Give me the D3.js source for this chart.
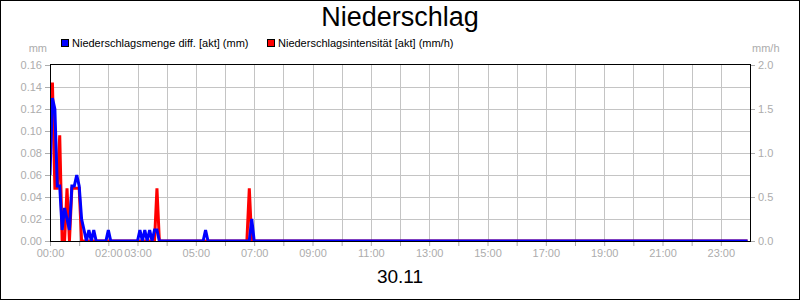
<!DOCTYPE html>
<html>
<head>
<meta charset="utf-8">
<script src="https://cdn.jsdelivr.net/npm/d3@7"></script>
<style>
  body { margin: 0; background: #fff; }
  svg { display: block; font-family: "Liberation Sans", Arial, sans-serif; }
</style>
</head>
<body>
<div class="graph"></div>
<script>
// data: minutes since 00:00 (5 min steps)
const mengeMin = [0, 5, 10, 15, 20, 25, 30, 35, 40, 45, 50, 55, 60, 65, 70, 75, 80, 85, 90, 95,
  115, 120, 125, 180, 185, 190, 195, 200, 205, 210, 215, 220, 225, 315, 320, 325, 410, 415, 420, 1435];
const mengeVal = [0.06, 0.13, 0.12, 0.05, 0.05, 0.01, 0.03, 0.02, 0.01, 0.05, 0.05, 0.06, 0.05, 0.02, 0.01, 0, 0.01, 0, 0.01, 0,
  0, 0.01, 0, 0, 0.01, 0, 0.01, 0, 0.01, 0, 0.01, 0.01, 0, 0, 0.01, 0, 0, 0.02, 0, 0];
const intensMin = [0, 5, 10, 15, 20, 25, 30, 35, 40, 45, 50, 55, 60, 65, 215, 220, 225, 405, 410, 415, 1435];
const intensVal = [1.2, 1.8, 0.6, 0.6, 1.2, 0, 0, 0.6, 0, 0.6, 0.6, 0.6, 0.6, 0, 0, 0.6, 0, 0, 0.6, 0, 0];
const leftTicks = [0, 0.02, 0.04, 0.06, 0.08, 0.10, 0.12, 0.14, 0.16];
const rightTicks = [0, 0.5, 1.0, 1.5, 2.0];
const hourLabels = ["00:00", "02:00", "03:00", "05:00", "07:00", "09:00", "11:00", "13:00",
  "15:00", "17:00", "19:00", "21:00", "23:00"];
const legendKey = ["Niederschlagsmenge diff. [akt] (mm)", "Niederschlagsintensität [akt] (mm/h)"];

function main() {
  //setting
  const width = 800;
  const height = 300;
  const left = 50, right = 750, top = 65, bottom = 241;
  const grey = "#acacac";
  const gridColor = "#c4c4c4";

  //scales
  const xScale = d3.scaleLinear().domain([0, 1440]).range([left, right]);
  const yScale = d3.scaleLinear().domain([0, 0.16]).range([bottom, top]);
  const y2Scale = d3.scaleLinear().domain([0, 2.0]).range([bottom, top]);
  const hourTicks = d3.range(0, 1441, 60);

  const svg = d3
    .select(".graph")
    .append("svg")
    .attr("width", width)
    .attr("height", height);

  //outer frame
  svg
    .append("rect")
    .attr("x", 0.5)
    .attr("y", 0.5)
    .attr("width", width - 1)
    .attr("height", height - 1)
    .style("fill", "#fff")
    .style("stroke", "#000");

  //title
  svg
    .append("text")
    .attr("x", 400)
    .attr("y", 26)
    .attr("text-anchor", "middle")
    .style("font-size", "27px")
    .text("Niederschlag");
  svg
    .append("text")
    .attr("x", 400)
    .attr("y", 283)
    .attr("text-anchor", "middle")
    .style("font-size", "19px")
    .text("30.11");

  //grid
  svg
    .append("g")
    .selectAll("line")
    .data(leftTicks.slice(1, -1))
    .enter()
    .append("line")
    .attr("x1", left)
    .attr("x2", right)
    .attr("y1", d => Math.round(yScale(d)) + 0.5)
    .attr("y2", d => Math.round(yScale(d)) + 0.5)
    .style("stroke", gridColor);
  svg
    .append("g")
    .selectAll("line")
    .data(hourTicks.slice(1, -1))
    .enter()
    .append("line")
    .attr("x1", d => Math.round(xScale(d)) + 0.5)
    .attr("x2", d => Math.round(xScale(d)) + 0.5)
    .attr("y1", top)
    .attr("y2", bottom)
    .style("stroke", gridColor);

  //axes
  const yAxis = d3
    .axisLeft(yScale)
    .tickValues(leftTicks)
    .tickSize(5)
    .tickFormat(d3.format(".2f"));
  svg
    .append("g")
    .attr("id", "y-axis")
    .attr("transform", "translate(" + left + ",0)")
    .call(yAxis);
  const y2Axis = d3
    .axisRight(y2Scale)
    .tickValues(rightTicks)
    .tickSize(5)
    .tickFormat(d3.format(".1f"));
  svg
    .append("g")
    .attr("id", "y2-axis")
    .attr("transform", "translate(" + right + ",0)")
    .call(y2Axis);
  const xAxis = d3
    .axisBottom(xScale)
    .tickValues(hourTicks.slice(0, -1))
    .tickSize(5)
    .tickFormat(d => {
      const s = d3.format("02")(d / 60) + ":00";
      return hourLabels.includes(s) ? s : "";
    });
  svg
    .append("g")
    .attr("id", "x-axis")
    .attr("transform", "translate(0," + bottom + ")")
    .call(xAxis);

  svg.selectAll(".domain").remove();
  svg.selectAll(".tick line").style("stroke", grey);
  svg
    .selectAll(".tick text")
    .style("fill", grey)
    .style("font-family", "'Liberation Sans', Arial, sans-serif")
    .style("font-size", "11px");

  //units
  svg
    .append("text")
    .attr("x", 47)
    .attr("y", 52)
    .attr("text-anchor", "end")
    .style("fill", grey)
    .style("font-size", "11px")
    .text("mm");
  svg
    .append("text")
    .attr("x", 752)
    .attr("y", 52)
    .style("fill", grey)
    .style("font-size", "11px")
    .text("mm/h");

  //legend
  const legendX = [61, 267];
  const legendColor = d3.scaleOrdinal().domain(legendKey).range(["#0000ff", "#ff0000"]);
  svg
    .selectAll("legendrect")
    .data(legendKey)
    .enter()
    .append("rect")
    .attr("x", (d, i) => legendX[i] + 0.5)
    .attr("y", 39.5)
    .attr("width", 7)
    .attr("height", 7)
    .style("fill", d => legendColor(d))
    .style("stroke", "#000");
  svg
    .selectAll("legendtext")
    .data(legendKey)
    .enter()
    .append("text")
    .attr("x", (d, i) => legendX[i] + 11)
    .attr("y", 47)
    .style("font-size", "11px")
    .text(d => d);

  //lines
  svg
    .append("clipPath")
    .attr("id", "clip")
    .append("rect")
    .attr("x", left)
    .attr("y", top)
    .attr("width", right - left)
    .attr("height", bottom - top);

  const intensLine = d3
    .line()
    .x((d, i) => xScale(intensMin[i]))
    .y(d => y2Scale(d));
  const mengeLine = d3
    .line()
    .x((d, i) => xScale(mengeMin[i]))
    .y(d => yScale(d));

  const plot = svg.append("g").attr("clip-path", "url(#clip)");
  plot
    .append("path")
    .attr("d", intensLine(intensVal))
    .style("fill", "none")
    .style("stroke", "#ff0000")
    .style("stroke-width", 3)
    .style("stroke-linejoin", "miter");
  plot
    .append("path")
    .attr("d", mengeLine(mengeVal))
    .style("fill", "none")
    .style("stroke", "#0000ff")
    .style("stroke-width", 3)
    .style("stroke-linejoin", "miter");

  //plot frame
  svg
    .append("rect")
    .attr("x", left + 0.5)
    .attr("y", top - 0.5)
    .attr("width", right - left)
    .attr("height", bottom - top + 1)
    .style("fill", "none")
    .style("stroke", "#000");
}

main();
</script>
</body>
</html>
